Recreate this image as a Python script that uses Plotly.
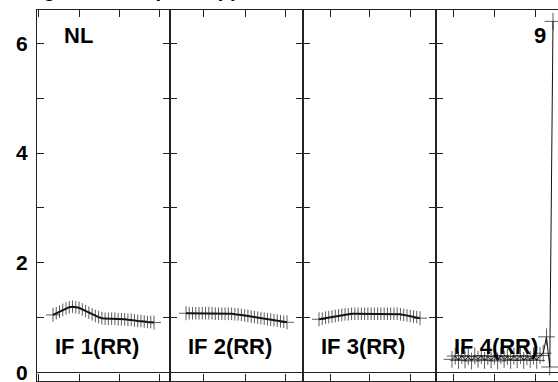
import plotly.graph_objects as go

# ---------------- data ----------------
channels = list(range(32))

if1_rr = [1.05, 1.08, 1.11, 1.14, 1.17, 1.19, 1.20, 1.19, 1.18, 1.15, 1.12, 1.09,
          1.06, 1.03, 1.01, 0.99, 0.98, 0.98, 0.98, 0.98, 0.97, 0.97, 0.97, 0.96,
          0.96, 0.95, 0.94, 0.94, 0.93, 0.92, 0.92, 0.91]
if2_rr = [1.08, 1.08, 1.08, 1.08, 1.08, 1.08, 1.08, 1.08, 1.08, 1.07, 1.07, 1.07,
          1.07, 1.07, 1.07, 1.06, 1.06, 1.05, 1.04, 1.03, 1.02, 1.01, 1.00, 0.99,
          0.98, 0.97, 0.965, 0.955, 0.945, 0.935, 0.925, 0.915]
if3_rr = [0.97, 0.98, 1.00, 1.01, 1.02, 1.03, 1.04, 1.05, 1.06, 1.06, 1.07, 1.07,
          1.07, 1.07, 1.07, 1.07, 1.07, 1.07, 1.07, 1.07, 1.07, 1.07, 1.07, 1.07,
          1.07, 1.06, 1.05, 1.04, 1.03, 1.02, 1.01, 0.99]
if4_rr = [0.24, 0.30, 0.22, 0.31, 0.23, 0.29, 0.21, 0.30, 0.24, 0.31, 0.22, 0.29,
          0.23, 0.30, 0.21, 0.31, 0.24, 0.29, 0.22, 0.30, 0.23, 0.31, 0.22, 0.29,
          0.24, 0.30, 0.22, 0.31, 0.35, 0.65, 0.10, 6.40]

series = [if1_rr, if2_rr, if3_rr, if4_rr]
panel_labels = ["IF 1(RR)", "IF 2(RR)", "IF 3(RR)", "IF 4(RR)"]
source_label = "NL"
antenna_label = "9"
title_text = "Lag and rate space applied"

# unlabelled frequency tick positions (in channel units) for each IF
x_ticks = [[-4.60, 7.98, 20.26, 32.84],
           [5.52, 18.11, 30.39],
           [3.38, 15.65, 27.93],
           [0.61, 12.89, 25.48]]

y_tickvals = [0, 1, 2, 3, 4, 5, 6]
y_ticktext = ["0", "", "2", "", "4", "", "6"]

# ---------------- layout geometry ----------------
W, H = 558, 382
ML, MR, MT, MB = 37, 0, 10, 1
PW = W - ML - MR
panel_px = 133
domains = [[0, panel_px / PW], [panel_px / PW, 2 * panel_px / PW],
           [2 * panel_px / PW, 3 * panel_px / PW], [3 * panel_px / PW, 1.0]]
ch_per_px = 1 / 3.258
x0 = -16 * ch_per_px
x_ranges = [[x0, x0 + panel_px * ch_per_px]] * 3 + [[x0, x0 + (PW - 3 * panel_px) * ch_per_px]]

FONT = "Arial, Liberation Sans, Helvetica, sans-serif"

fig = go.Figure()
for k, vals in enumerate(series):
    n = len(vals)
    if k < 3:
        symbols = ["cross-thin"] + ["line-ns"] * (n - 2) + ["cross-thin"]
        sizes = [10] + [9] * (n - 2) + [10]
    else:
        symbols = ["cross-thin"] * n
        sizes = [12] * n
    xa = "x" if k == 0 else f"x{k+1}"
    ya = "y" if k == 0 else f"y{k+1}"
    fig.add_trace(go.Scatter(
        x=channels, y=vals, xaxis=xa, yaxis=ya,
        mode="lines+markers",
        line=dict(color="#111111", width=2.0 if k < 3 else 1.0),
        marker=dict(symbol=symbols, size=sizes, color="#111111",
                    line=dict(color="#1a1a1a", width=1)),
        showlegend=False, hoverinfo="skip"))

layout = dict(width=W, height=H, margin=dict(l=ML, r=MR, t=MT, b=MB, autoexpand=False),
              paper_bgcolor="white", plot_bgcolor="white",
              font=dict(family=FONT, color="black"), showlegend=False)

for k in range(4):
    xname = "xaxis" if k == 0 else f"xaxis{k+1}"
    yname = "yaxis" if k == 0 else f"yaxis{k+1}"
    xa_anchor = "y" if k == 0 else f"y{k+1}"
    ya_anchor = "x" if k == 0 else f"x{k+1}"
    layout[xname] = dict(domain=domains[k], range=x_ranges[k], anchor=xa_anchor,
                         showgrid=False, zeroline=False, showline=True,
                         linecolor="#222222", linewidth=1, mirror="ticks",
                         ticks="inside", ticklen=7, tickcolor="#222222",
                         tickvals=x_ticks[k], showticklabels=False, fixedrange=True,
                         automargin=False)
    layout[yname] = dict(domain=[0, 1], range=[-0.155, 6.607], anchor=ya_anchor,
                         showgrid=False, zeroline=True, zerolinecolor="#222222",
                         zerolinewidth=1, showline=True, linecolor="#222222",
                         linewidth=1, mirror=("ticks" if k < 3 else False),
                         ticks="inside", ticklen=7, tickcolor="#222222",
                         tickvals=y_tickvals, ticktext=y_ticktext,
                         showticklabels=(k == 0), ticklabelstandoff=4,
                         ticklabeloverflow="allow",
                         tickfont=dict(family=FONT, size=21, color="black", weight="bold"),
                         fixedrange=True, automargin=False)
fig.update_layout(**layout)

ann = []
for k, lab in enumerate(panel_labels):
    xr = "x" if k == 0 else f"x{k+1}"
    yr = "y" if k == 0 else f"y{k+1}"
    ann.append(dict(x=x0 + 15.5 * ch_per_px, y=0.47, xref=xr, yref=yr,
                    text=f"<b>{lab}</b>", showarrow=False, xanchor="left",
                    yanchor="middle", font=dict(family=FONT, size=22, color="black")))
ann.append(dict(x=x0 + 25 * ch_per_px, y=6.15, xref="x", yref="y",
                text=f"<b>{source_label}</b>", showarrow=False, xanchor="left",
                yanchor="middle", font=dict(family=FONT, size=22, color="black")))
ann.append(dict(x=x0 + 111.5 * ch_per_px, y=6.15, xref="x4", yref="y4",
                text=f"<b>{antenna_label}</b>", showarrow=False, xanchor="right",
                yanchor="middle", font=dict(family=FONT, size=22, color="black")))
ann.append(dict(x=(148 - ML) / PW, y=1 + 7 / (H - MT - MB), xref="paper", yref="paper",
                text=f"<b>{title_text}</b>", showarrow=False, xanchor="center",
                yanchor="bottom", font=dict(family=FONT, size=20, color="black")))
fig.update_layout(annotations=ann)

fig.write_html("out.html", config={"displayModeBar": False, "staticPlot": True},
               post_script="document.body.style.margin='0px';document.body.style.overflow='hidden';")
